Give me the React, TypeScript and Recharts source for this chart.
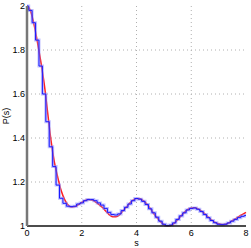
import { CartesianGrid, Line, LineChart, XAxis, YAxis } from "recharts";

// spacing s, sampled every 1/8
const sValues = [
  0, 0.125, 0.25, 0.375, 0.5, 0.625, 0.75, 0.875,
  1, 1.125, 1.25, 1.375, 1.5, 1.625, 1.75, 1.875,
  2, 2.125, 2.25, 2.375, 2.5, 2.625, 2.75, 2.875,
  3, 3.125, 3.25, 3.375, 3.5, 3.625, 3.75, 3.875,
  4, 4.125, 4.25, 4.375, 4.5, 4.625, 4.75, 4.875,
  5, 5.125, 5.25, 5.375, 5.5, 5.625, 5.75, 5.875,
  6, 6.125, 6.25, 6.375, 6.5, 6.625, 6.75, 6.875,
  7, 7.125, 7.25, 7.375, 7.5, 7.625, 7.75, 7.875,
  8,
];

// smooth curve (red)
const theoryP = [
  2.0, 1.98, 1.92, 1.84, 1.75, 1.65, 1.52, 1.39,
  1.29, 1.22, 1.16, 1.12, 1.095, 1.086, 1.088, 1.097,
  1.107, 1.116, 1.12, 1.118, 1.11, 1.098, 1.085, 1.068,
  1.052, 1.042, 1.042, 1.05, 1.068, 1.085, 1.103, 1.118,
  1.125, 1.124, 1.115, 1.1, 1.08, 1.058, 1.037, 1.02,
  1.006, 1.0, 1.002, 1.012, 1.028, 1.045, 1.062, 1.075,
  1.082, 1.083, 1.078, 1.068, 1.055, 1.04, 1.027, 1.016,
  1.01, 1.007, 1.008, 1.014, 1.024, 1.034, 1.044, 1.053,
  1.062,
];

// staircase (blue)
const measuredP = [
  2.0, 1.98, 1.924, 1.845, 1.727, 1.6, 1.474, 1.36,
  1.27, 1.186, 1.126, 1.103, 1.09, 1.088, 1.09, 1.1,
  1.105, 1.115, 1.12, 1.12, 1.115, 1.105, 1.095, 1.08,
  1.062, 1.052, 1.05, 1.055, 1.07, 1.085, 1.1, 1.115,
  1.125, 1.122, 1.112, 1.098, 1.078, 1.06, 1.04, 1.022,
  1.008, 1.002, 1.004, 1.014, 1.03, 1.046, 1.06, 1.073,
  1.08, 1.082, 1.076, 1.066, 1.052, 1.038, 1.025, 1.015,
  1.008, 1.006, 1.008, 1.014, 1.022, 1.03, 1.038, 1.044,
  1.048,
];

const xTicks = [0, 2, 4, 6, 8];
const yTicks = [1, 1.2, 1.4, 1.6, 1.8, 2];

const data = sValues.map((s, i) => ({ s, theory: theoryP[i], measured: measuredP[i] }));

const font = "'Liberation Sans', Arial, sans-serif";

export default function App() {
  return (
    <div style={{ position: "absolute", left: 0, top: 0, background: "#fff" }}>
      <LineChart
        width={251}
        height={248}
        data={data}
        margin={{ top: 6, right: 5, left: 0, bottom: 0 }}
        style={{ fontFamily: font }}
      >
        <CartesianGrid
          stroke="#b0b0b0"
          strokeDasharray="1 3"
          verticalValues={[2, 4, 6]}
          horizontalValues={[1.2, 1.4, 1.6, 1.8]}
        />
        <XAxis
          dataKey="s"
          type="number"
          domain={[0, 8]}
          ticks={xTicks}
          height={22}
          tickSize={0}
          tickMargin={4}
          axisLine={{ stroke: "#111", strokeWidth: 1.5 }}
          tick={{ fill: "#000", fontSize: 9 }}
          label={{ value: "s", position: "insideBottom", offset: 2, fill: "#000", fontSize: 9 }}
        />
        <XAxis xAxisId="top" orientation="top" dataKey="s" type="number" domain={[0, 8]} height={0} tick={false} tickLine={false} axisLine={{ stroke: "#222", strokeWidth: 1.5 }} />
        <YAxis
          type="number"
          domain={[1, 2]}
          ticks={yTicks}
          width={27}
          tickSize={0}
          tickMargin={2}
          axisLine={{ stroke: "#777", strokeWidth: 2.5 }}
          tick={{ fill: "#000", fontSize: 9 }}
          tickFormatter={(v: number) => String(v)}
        />
        <YAxis yAxisId="right" orientation="right" type="number" domain={[1, 2]} width={0} tick={false} tickLine={false} axisLine={{ stroke: "#888", strokeWidth: 1.5 }} />
        <text
          x={9}
          y={116}
          transform="rotate(-90 9 116)"
          textAnchor="middle"
          fontSize={9}
          fill="#000"
          fontFamily={font}
        >
          P(s)
        </text>
        <Line
          type="monotone"
          dataKey="theory"
          stroke="#ff2020"
          strokeWidth={1.5}
          dot={false}
          isAnimationActive={false}
        />
        <Line
          type="step"
          dataKey="measured"
          stroke="#8c8cff"
          strokeOpacity={0.55}
          strokeWidth={3}
          dot={false}
          isAnimationActive={false}
        />
        <Line
          type="step"
          dataKey="measured"
          stroke="#1a1aff"
          strokeWidth={1}
          dot={false}
          isAnimationActive={false}
        />
      </LineChart>
    </div>
  );
}
